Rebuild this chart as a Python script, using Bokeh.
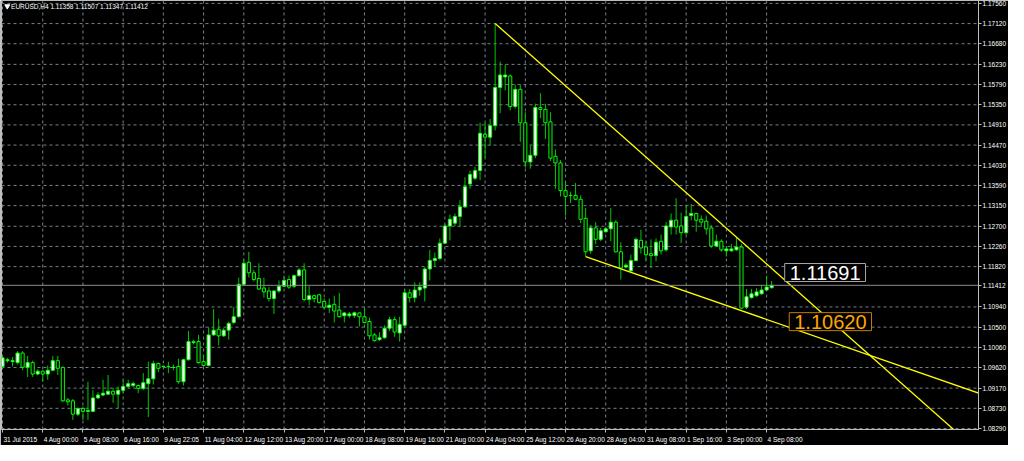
from bokeh.plotting import figure
from bokeh.models import Range1d, FixedTicker, Span, Label
from bokeh.embed import file_html
from bokeh.resources import INLINE

# ---------------- data (EURUSD H4) ----------------
opens = [1.09643, 1.09769, 1.09748, 1.09727, 1.09935, 1.09623, 1.09727, 1.09477, 1.09539, 1.09477,
         1.09560, 1.09769, 1.09623, 1.08914, 1.08893, 1.08602, 1.08727, 1.08664, 1.08664, 1.08956,
         1.09019, 1.09039, 1.09102, 1.09039, 1.09123, 1.09206, 1.09227, 1.09227, 1.09164, 1.09268,
         1.09373, 1.09706, 1.09643, 1.09643, 1.09623, 1.09643, 1.09310, 1.09790, 1.10185, 1.10185,
         1.09748, 1.09664, 1.10331, 1.10456, 1.10310, 1.10435, 1.10602, 1.10727, 1.11435, 1.11914,
         1.11685, 1.11560, 1.11352, 1.11289, 1.11123, 1.11289, 1.11393, 1.11539, 1.11393, 1.11623,
         1.11748, 1.11102, 1.11185, 1.11206, 1.11060, 1.10935, 1.10998, 1.10873, 1.10748, 1.10748,
         1.10752, 1.10810, 1.10727, 1.10623, 1.10331, 1.10227, 1.10268, 1.10477, 1.10664, 1.10373,
         1.10539, 1.11248, 1.11143, 1.11310, 1.11352, 1.11768, 1.11956, 1.11998, 1.12331, 1.12706,
         1.12768, 1.12914, 1.13123, 1.13623, 1.13748, 1.13914, 1.14706, 1.14643, 1.14893, 1.15727,
         1.15956, 1.15977, 1.15310, 1.15685, 1.14956, 1.14102, 1.14248, 1.15289, 1.15248, 1.14977,
         1.14227, 1.14081, 1.13477, 1.13373, 1.13373, 1.13289, 1.12873, 1.12164, 1.12664, 1.12414,
         1.12581, 1.12643, 1.12789, 1.12143, 1.11810, 1.11727, 1.11956, 1.12393, 1.12248, 1.12102,
         1.12060, 1.12373, 1.12185, 1.12685, 1.12831, 1.12706, 1.12560, 1.12935, 1.12977, 1.12852,
         1.12810, 1.12664, 1.12268, 1.12373, 1.12164, 1.12164, 1.12185, 1.12248, 1.10935, 1.11143,
         1.11185, 1.11227, 1.11310, 1.11358]

highs = [1.09893, 1.09831, 1.09852, 1.09977, 1.09977, 1.09873, 1.09769, 1.09581, 1.09560, 1.09664,
         1.09873, 1.09873, 1.09643, 1.08956, 1.08935, 1.08748, 1.08768, 1.09310, 1.09123, 1.09081,
         1.09352, 1.09456, 1.09185, 1.09206, 1.09352, 1.09352, 1.09310, 1.09248, 1.09498, 1.09748,
         1.09769, 1.09727, 1.09664, 1.09748, 1.09685, 1.09810, 1.09810, 1.10414, 1.10227, 1.10331,
         1.09893, 1.10498, 1.10893, 1.10685, 1.10477, 1.10623, 1.10935, 1.11581, 1.11977, 1.12143,
         1.11748, 1.11893, 1.11581, 1.11373, 1.11310, 1.11518, 1.11623, 1.11623, 1.11643, 1.11789,
         1.11893, 1.11393, 1.11206, 1.11227, 1.11123, 1.11123, 1.11185, 1.11248, 1.10831, 1.10831,
         1.10840, 1.10815, 1.10935, 1.10706, 1.10373, 1.10393, 1.10539, 1.10727, 1.10727, 1.10727,
         1.11331, 1.11331, 1.11477, 1.11477, 1.11810, 1.12185, 1.12123, 1.12435, 1.12748, 1.12956,
         1.12977, 1.13268, 1.13768, 1.13914, 1.13998, 1.14956, 1.14956, 1.15039, 1.17123, 1.16289,
         1.16227, 1.16010, 1.15789, 1.15789, 1.15185, 1.14456, 1.15373, 1.15602, 1.15373, 1.15185,
         1.14373, 1.14143, 1.13664, 1.13456, 1.13643, 1.13373, 1.13102, 1.12727, 1.12789, 1.12664,
         1.12685, 1.13102, 1.12831, 1.12352, 1.11893, 1.12081, 1.12456, 1.12623, 1.12373, 1.12414,
         1.12435, 1.12518, 1.12789, 1.12977, 1.13310, 1.12998, 1.13143, 1.13185, 1.12998, 1.12935,
         1.12935, 1.12727, 1.12518, 1.12414, 1.12268, 1.12310, 1.12456, 1.12310, 1.11331, 1.11331,
         1.11352, 1.11414, 1.11623, 1.11507]

lows = [1.09623, 1.09727, 1.09643, 1.09685, 1.09560, 1.09414, 1.09414, 1.09456, 1.09310, 1.09352,
        1.09539, 1.09456, 1.08873, 1.08789, 1.08477, 1.08560, 1.08477, 1.08477, 1.08643, 1.08935,
        1.08998, 1.09019, 1.08852, 1.08727, 1.09060, 1.09164, 1.09185, 1.09060, 1.09123, 1.08539,
        1.09248, 1.09518, 1.09602, 1.09498, 1.09560, 1.09268, 1.09227, 1.09769, 1.10123, 1.09706,
        1.09643, 1.09643, 1.10310, 1.10102, 1.10289, 1.10227, 1.10560, 1.10706, 1.11393, 1.11581,
        1.11498, 1.11310, 1.11143, 1.11060, 1.10789, 1.11248, 1.11373, 1.11331, 1.11352, 1.11602,
        1.11060, 1.10977, 1.11039, 1.11018, 1.10893, 1.10810, 1.10602, 1.10706, 1.10602, 1.10706,
        1.10700, 1.10518, 1.10581, 1.10227, 1.10185, 1.10200, 1.10248, 1.10414, 1.10289, 1.10185,
        1.10498, 1.11039, 1.11039, 1.11185, 1.11060, 1.11518, 1.11810, 1.11956, 1.12310, 1.12393,
        1.12706, 1.12685, 1.13102, 1.13518, 1.13706, 1.13706, 1.14185, 1.14456, 1.14789, 1.15164,
        1.15664, 1.15227, 1.15268, 1.14539, 1.13977, 1.13956, 1.14185, 1.15060, 1.14602, 1.14123,
        1.13518, 1.13352, 1.12935, 1.13206, 1.13268, 1.12768, 1.12039, 1.12102, 1.12310, 1.12373,
        1.12560, 1.12373, 1.12130, 1.11539, 1.11785, 1.11715, 1.11935, 1.12102, 1.11956, 1.11789,
        1.11935, 1.12081, 1.12143, 1.12518, 1.12518, 1.12331, 1.12518, 1.12831, 1.12581, 1.12685,
        1.12518, 1.12227, 1.12248, 1.12143, 1.12039, 1.12143, 1.12164, 1.10893, 1.10893, 1.11123,
        1.11164, 1.11206, 1.11289, 1.11347]

closes = [1.09831, 1.09790, 1.09769, 1.09935, 1.09623, 1.09727, 1.09477, 1.09539, 1.09477, 1.09560,
          1.09769, 1.09602, 1.08893, 1.08873, 1.08602, 1.08727, 1.08664, 1.08685, 1.08956, 1.09019,
          1.09060, 1.09102, 1.09039, 1.09123, 1.09206, 1.09268, 1.09268, 1.09164, 1.09289, 1.09373,
          1.09706, 1.09602, 1.09645, 1.09640, 1.09620, 1.09310, 1.09790, 1.10185, 1.10164, 1.09727,
          1.09664, 1.10331, 1.10435, 1.10310, 1.10435, 1.10581, 1.10727, 1.11435, 1.11893, 1.11685,
          1.11539, 1.11331, 1.11268, 1.11123, 1.11289, 1.11393, 1.11518, 1.11373, 1.11623, 1.11748,
          1.11102, 1.11185, 1.11123, 1.11039, 1.10935, 1.10977, 1.10852, 1.10727, 1.10810, 1.10789,
          1.10812, 1.10727, 1.10602, 1.10310, 1.10206, 1.10268, 1.10477, 1.10664, 1.10393, 1.10560,
          1.11248, 1.11143, 1.11310, 1.11373, 1.11768, 1.11956, 1.11998, 1.12331, 1.12706, 1.12852,
          1.12914, 1.13123, 1.13560, 1.13831, 1.13914, 1.14727, 1.14643, 1.14893, 1.15727, 1.15998,
          1.15998, 1.15310, 1.15685, 1.14956, 1.14102, 1.14248, 1.15289, 1.15248, 1.14956, 1.14185,
          1.14081, 1.13477, 1.13352, 1.13370, 1.13289, 1.12852, 1.12143, 1.12664, 1.12414, 1.12602,
          1.12643, 1.12789, 1.12143, 1.11789, 1.11852, 1.11956, 1.12414, 1.12227, 1.12081, 1.12060,
          1.12352, 1.12164, 1.12706, 1.12831, 1.12685, 1.12560, 1.12914, 1.12977, 1.12831, 1.12789,
          1.12643, 1.12268, 1.12373, 1.12185, 1.12206, 1.12206, 1.12248, 1.10914, 1.11164, 1.11227,
          1.11268, 1.11310, 1.11373, 1.11412]

x_tick_bars = [0, 8, 16, 24, 32, 40, 48, 56, 64, 72, 80, 88, 96, 104, 112, 120, 128, 136, 144, 152]
x_tick_labels = ["31 Jul 2015", "4 Aug 00:00", "5 Aug 08:00", "6 Aug 16:00", "9 Aug 22:05",
                 "11 Aug 04:00", "12 Aug 12:00", "13 Aug 20:00", "17 Aug 00:00", "18 Aug 08:00",
                 "19 Aug 16:00", "21 Aug 00:00", "24 Aug 04:00", "25 Aug 12:00", "26 Aug 20:00",
                 "28 Aug 04:00", "31 Aug 08:00", "1 Sep 16:00", "3 Sep 00:00", "4 Sep 08:00"]
y_tick_values = [1.17560, 1.17120, 1.16680, 1.16230, 1.15790, 1.15350, 1.14910, 1.14470, 1.14030,
                 1.13590, 1.13150, 1.12700, 1.12260, 1.11820, 1.10940, 1.10500, 1.10060, 1.09620,
                 1.09170, 1.08730, 1.08290]
y_tick_labels = ["%.5f" % v for v in y_tick_values]

upper_trend_bars = [98, 200]
upper_trend_prices = [1.17123, 1.07220]
lower_trend_bars = [116, 195]
lower_trend_prices = [1.12039, 1.09030]

symbol_title = "EURUSD,H4  1.11358 1.11507 1.11347 1.11412"
current_price = 1.11412
price_label_white = 1.11691
price_label_orange = 1.10620

# ---------------- figure ----------------
FONT = "Liberation Sans"
AX_COL = "#bdbdbd"
GRID_COL = "#76808c"
X0, X1 = -0.2, 194.15
Y0, Y1 = 1.08268, 1.17623
W, H = 1008, 445
BR, BB = 27, 12
p = figure(width=W, height=H, output_backend="svg", toolbar_location=None,
           x_range=Range1d(X0, X1), y_range=Range1d(Y0, Y1),
           y_axis_location="right",
           background_fill_color="black", border_fill_color="black",
           min_border_left=1, min_border_top=0, min_border_right=BR, min_border_bottom=BB)
p.outline_line_color = AX_COL
p.xgrid.visible = False
p.ygrid.visible = False

# dashed grid lines at the tick positions
for t in x_tick_bars:
    p.add_layout(Span(location=t, dimension="height", line_color=GRID_COL,
                      line_dash="3 3", line_width=1, level="underlay"))
for v in y_tick_values:
    p.add_layout(Span(location=v, dimension="width", line_color=GRID_COL,
                      line_dash="3 3", line_width=1, level="underlay"))

# x axis: tick marks (as minor ticks) at the bars, date labels written to the right of each tick
CW = {"0": .556, "1": .556, "2": .556, "3": .556, "4": .556, "5": .556, "6": .556, "7": .556,
      "8": .556, "9": .556, " ": .278, ":": .278, "A": .667, "u": .556, "g": .556, "J": .5,
      "l": .222, "S": .667, "e": .556, "p": .556}
XFS = 6.5
px_per_bar = (W - 1 - BR) / (X1 - X0)
label_pos = []
for t, s in zip(x_tick_bars, x_tick_labels):
    wpx = sum(CW.get(c, .55) for c in s) * XFS
    label_pos.append(round(t + (wpx / 2 + 1) / px_per_bar, 2))

xa = p.xaxis[0]
xa.ticker = FixedTicker(ticks=label_pos, minor_ticks=x_tick_bars)
xa.major_label_overrides = {k: s for k, s in zip(label_pos, x_tick_labels)}
xa.axis_line_color = AX_COL
xa.major_tick_line_color = None
xa.major_tick_out = 0
xa.major_tick_in = 0
xa.minor_tick_line_color = AX_COL
xa.minor_tick_out = 3
xa.minor_tick_in = 0
xa.major_label_standoff = 3
xa.major_label_text_color = "white"
xa.major_label_text_font = FONT
xa.major_label_text_font_size = "%spx" % XFS

# y axis (price scale, with the current price among its labels)
axis_ticks = sorted(y_tick_values + [current_price], reverse=True)
ya = p.yaxis[0]
ya.ticker = FixedTicker(ticks=axis_ticks)
ya.major_label_overrides = {v: "%.5f" % v for v in axis_ticks}
ya.axis_line_color = AX_COL
ya.major_tick_line_color = AX_COL
ya.major_tick_out = 3
ya.major_tick_in = 0
ya.minor_tick_out = 0
ya.minor_tick_in = 0
ya.major_label_text_color = "white"
ya.major_label_text_font = FONT
ya.major_label_text_font_size = "6.5px"
ya.major_label_standoff = 1

# current price line
p.add_layout(Span(location=current_price, dimension="width", line_color="#8c8c8c", line_width=1))

# candles
idx = list(range(len(opens)))
p.segment(x0=idx, y0=highs, x1=idx, y1=lows, line_color="#00c800", line_width=1)
bull = [i for i in idx if closes[i] >= opens[i]]
bear = [i for i in idx if closes[i] < opens[i]]
p.vbar(x=bull, width=0.62, top=[closes[i] for i in bull], bottom=[opens[i] for i in bull],
       fill_color="white", line_color="#00ff00", line_width=1)
p.vbar(x=bear, width=0.62, top=[opens[i] for i in bear], bottom=[closes[i] for i in bear],
       fill_color="black", line_color="#00ff00", line_width=1)

# trend lines
p.line(upper_trend_bars, upper_trend_prices, line_color="#ffff00", line_width=1.3)
p.line(lower_trend_bars, lower_trend_prices, line_color="#ffff00", line_width=1.3)

# price labels
p.add_layout(Label(x=155.6, y=price_label_white, text="%.5f" % price_label_white,
                   text_color="white", text_font=FONT, text_font_size="20px",
                   text_baseline="middle", background_fill_color="black",
                   border_line_color="#a8a8a8", padding=(5, 2)))
p.add_layout(Label(x=156.5, y=price_label_orange, text="%.5f" % price_label_orange,
                   text_color="#ffa500", text_font=FONT, text_font_size="20px",
                   text_baseline="middle", background_fill_color="black",
                   border_line_color="#c27d00", padding=(5, 2)))

# current price marker box on the price scale (screen units, frame-relative)
frame_h = H - BB
y_scr = (current_price - Y0) / (Y1 - Y0) * frame_h
p.add_layout(Label(x=W - 1 - BR + 1, x_units="screen", y=y_scr, y_units="screen",
                   text="%.5f" % current_price, level="overlay", text_color="black",
                   text_font=FONT, text_font_size="6.5px", text_baseline="middle",
                   background_fill_color="white", padding=1))

# title
p.scatter([0.95], [1.17498], marker="inverted_triangle", size=5, color="white")
p.add_layout(Label(x=1.7, y=1.17498, text=symbol_title, text_color="white",
                   text_font=FONT, text_font_size="6.5px", text_baseline="middle"))

open("out.html", "w").write(file_html(p, INLINE))
